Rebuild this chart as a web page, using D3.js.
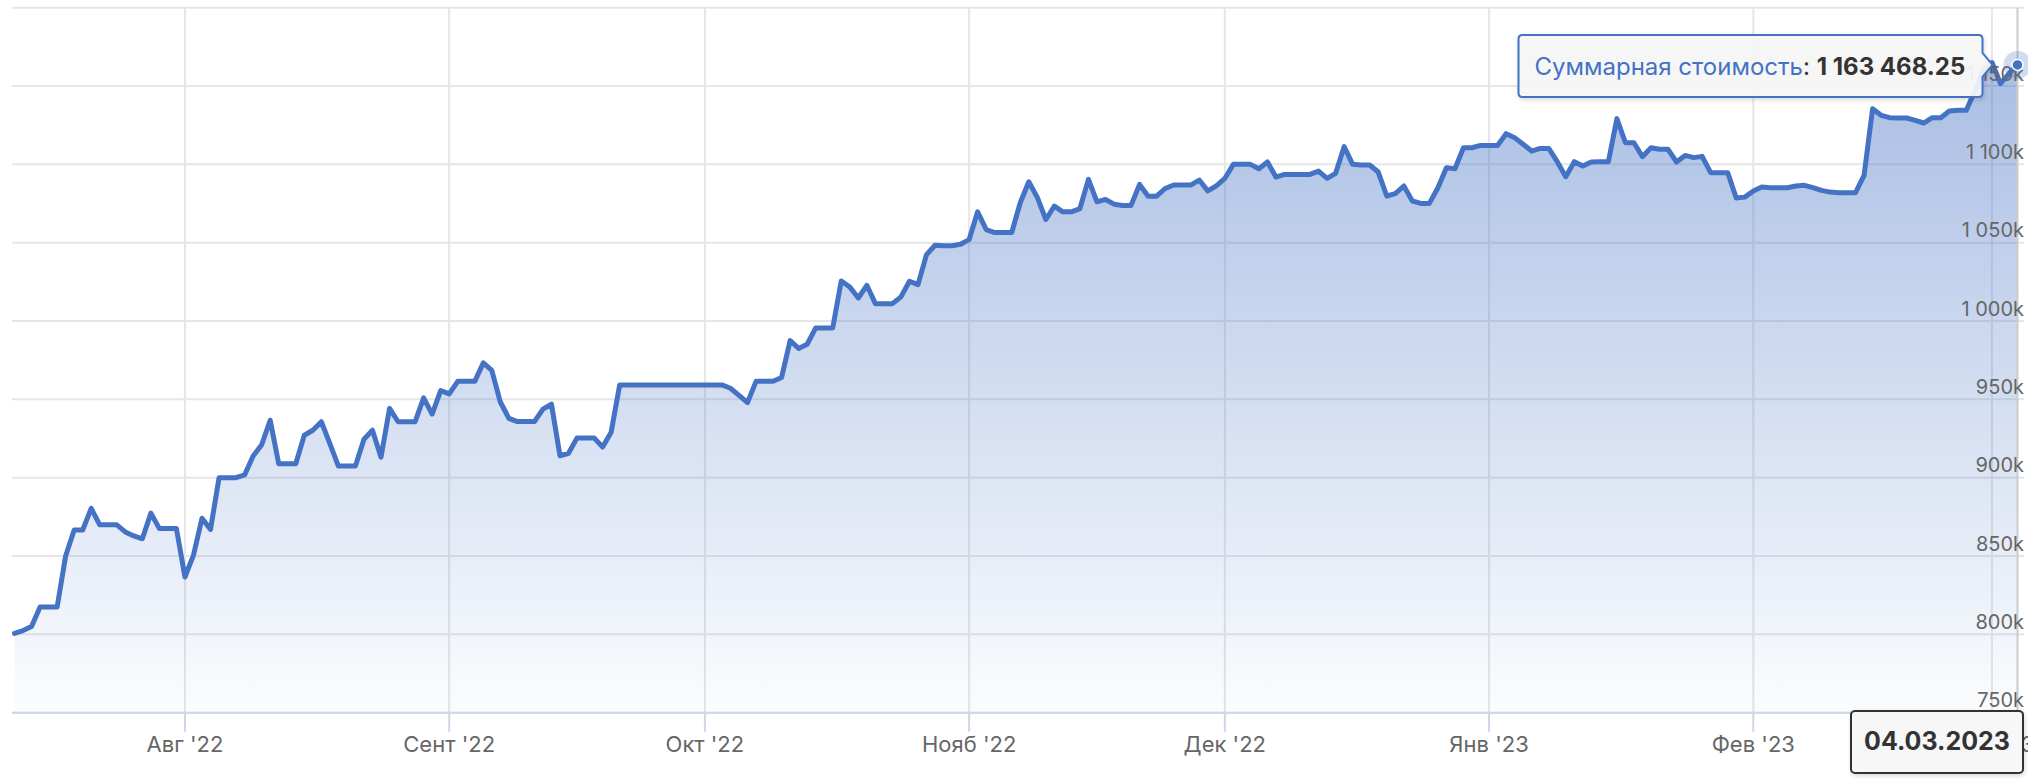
<!DOCTYPE html>
<html lang="ru">
<head>
  <meta charset="UTF-8">
  <title>Суммарная стоимость</title>
  <style>
    body {
        margin: 0;
        background-color: #fff;
    }
    .main {
        position: relative;
        width: 2028px;
        height: 784px;
    }
    text {
        font-family: Inter, "Noto Sans", sans-serif;
    }
  </style>
  <script src="https://cdn.jsdelivr.net/npm/d3@7"></script>
</head>
<body>
    <div class="main"></div>

    <script>

    // daily values, first day 12.07.2022
    var startDate = "2022-07-12";

    var values = [
        800600, 802400, 805000, 817400, 817400, 817400, 850000, 866600, 866600, 880400,
        869900, 869900, 869900, 865400, 862800, 861000, 877400, 867500, 867500, 867500,
        836600, 850600, 874100, 867000, 900000, 900000, 900000, 901800, 913800, 921000,
        936700, 908900, 908900, 908900, 927100, 930300, 935700, 921700, 907400, 907400,
        907400, 924500, 930300, 913100, 944200, 935700, 935700, 935700, 951000, 940600,
        955600, 953500, 961500, 961500, 961500, 973300, 968500, 948300, 937900, 935800,
        935800, 935800, 943800, 946900, 914000, 915600, 925400, 925400, 925400, 919600,
        929000, 959200, 959200, 959200, 959200, 959200, 959200, 959200, 959200, 959200,
        959200, 959200, 959200, 959200, 957100, 952500, 947900, 961500, 961500, 961500,
        964000, 987500, 982500, 985200, 995600, 995600, 995600, 1025600, 1021700, 1014700,
        1022800, 1011100, 1011100, 1011100, 1015400, 1025400, 1023200, 1042400, 1048400, 1048000,
        1048000, 1049000, 1052000, 1069700, 1058400, 1056500, 1056500, 1056500, 1075500, 1088900,
        1078900, 1064800, 1073300, 1069700, 1069700, 1071800, 1090400, 1076100, 1077600, 1074600,
        1073800, 1073800, 1087200, 1079700, 1079700, 1084600, 1086800, 1086800, 1086800, 1090000,
        1083100, 1086300, 1091000, 1100000, 1100000, 1100000, 1097200, 1101500, 1091900, 1093600,
        1093600, 1093600, 1093600, 1095700, 1091100, 1094300, 1111300, 1100000, 1099600, 1099600,
        1095100, 1079800, 1081300, 1086200, 1076600, 1075100, 1075100, 1085100, 1097900, 1097200,
        1110600, 1110600, 1112100, 1112100, 1112100, 1119600, 1117000, 1112800, 1108500, 1110200,
        1110200, 1101700, 1092100, 1101700, 1098900, 1101500, 1101700, 1101700, 1129200, 1113800,
        1113800, 1104900, 1110600, 1109600, 1109600, 1101500, 1105700, 1104300, 1105100, 1094700,
        1094700, 1094700, 1078500, 1079100, 1083000, 1085500, 1085100, 1085100, 1085100, 1086200,
        1086600, 1085100, 1083400, 1082300, 1081900, 1081900, 1081900, 1093000, 1135500, 1131300,
        1129800, 1129600, 1129600, 1128100, 1126400, 1129800, 1129800, 1134000, 1134500, 1134500,
        1147000, 1160000, 1165000, 1151500, 1158000, 1163468.25
    ];

    var monthLabels = ["Авг '22", "Сент '22", "Окт '22", "Нояб '22", "Дек '22", "Янв '23", "Фев '23", "Мар '23"];
    var yTicks = [750000, 800000, 850000, 900000, 950000, 1000000, 1050000, 1100000, 1150000, 1200000];
    var seriesName = "Суммарная стоимость";

    var width = 2028,
        height = 784;

    var plotL = 12, plotR = 2024, plotT = 7.7, plotB = 712.7;
    var color = "#4472c4";

    var parse = d3.utcParse("%Y-%m-%d");
    var day0 = parse(startDate);
    var data = values.map(function(v, i) {
        return { date: d3.utcDay.offset(day0, i), value: v };
    });
    var last = data[data.length - 1];

    var x = d3.scaleUtc()
        .domain([day0, last.date])
        .range([14.5, 2017.5]);

    var y = d3.scaleLinear()
        .domain([750000, 1200000])
        .range([plotB, plotT]);

    var ru = d3.formatLocale({ decimal: ".", thousands: " ", grouping: [3], currency: ["", ""] });
    var fmtK = function(v) { return ru.format(",")(v / 1000) + "k"; };
    var fmtVal = ru.format(",.2f");
    var fmtDate = d3.utcFormat("%d.%m.%Y");

    var months = d3.utcMonth.range(parse("2022-08-01"), parse("2023-03-02"));

    var svg = d3.select(".main").append("svg")
        .attr("width", width)
        .attr("height", height);

    var defs = svg.append("defs");
    var grad = defs.append("linearGradient")
        .attr("id", "fillGrad")
        .attr("gradientUnits", "userSpaceOnUse")
        .attr("x1", 0).attr("y1", plotT)
        .attr("x2", 0).attr("y2", plotB);
    grad.append("stop").attr("offset", 0).attr("stop-color", color).attr("stop-opacity", 0.5);
    grad.append("stop").attr("offset", 1).attr("stop-color", color).attr("stop-opacity", 0.02);

    var shadow = defs.append("filter").attr("id", "shadow")
        .attr("x", "-10%").attr("y", "-30%").attr("width", "120%").attr("height", "160%");
    shadow.append("feDropShadow")
        .attr("dx", 1).attr("dy", 2).attr("stdDeviation", 2)
        .attr("flood-color", "#000").attr("flood-opacity", 0.15);

    // grid
    svg.append("g")
        .selectAll("line")
        .data(yTicks)
        .enter().append("line")
        .attr("x1", plotL).attr("x2", plotR)
        .attr("y1", function(d) { return y(d); })
        .attr("y2", function(d) { return y(d); })
        .attr("stroke", "#e6e6e6")
        .attr("stroke-width", 2);

    svg.append("g")
        .selectAll("line")
        .data(months)
        .enter().append("line")
        .attr("x1", function(d) { return x(d); })
        .attr("x2", function(d) { return x(d); })
        .attr("y1", plotT).attr("y2", plotB)
        .attr("stroke", "#e6e6e6")
        .attr("stroke-width", 2);

    // series
    var area = d3.area()
        .x(function(d) { return x(d.date); })
        .y0(plotB)
        .y1(function(d) { return y(d.value); });

    var line = d3.line()
        .x(function(d) { return x(d.date); })
        .y(function(d) { return y(d.value); });

    svg.append("path")
        .datum(data)
        .attr("d", area)
        .attr("fill", "url(#fillGrad)");

    // crosshair
    svg.append("line")
        .attr("x1", x(last.date)).attr("x2", x(last.date))
        .attr("y1", plotT).attr("y2", plotB)
        .attr("stroke", "#cccccc")
        .attr("stroke-width", 2);

    svg.append("path")
        .datum(data)
        .attr("d", line)
        .attr("fill", "none")
        .attr("stroke", color)
        .attr("stroke-width", 5)
        .attr("stroke-linejoin", "round")
        .attr("stroke-linecap", "round");

    // x axis
    svg.append("line")
        .attr("x1", plotL).attr("x2", plotR)
        .attr("y1", plotB).attr("y2", plotB)
        .attr("stroke", "#ccd6eb")
        .attr("stroke-width", 2);

    var xt = svg.append("g")
        .selectAll("g")
        .data(months)
        .enter().append("g")
        .attr("transform", function(d) { return "translate(" + x(d) + ",0)"; });
    xt.append("line")
        .attr("y1", plotB).attr("y2", plotB + 19)
        .attr("stroke", "#ccd6eb")
        .attr("stroke-width", 2);
    xt.append("text")
        .attr("y", 752)
        .attr("text-anchor", "middle")
        .attr("fill", "#666666")
        .style("font-size", "22px")
        .text(function(d, i) { return monthLabels[i]; });

    // y labels
    svg.append("g")
        .selectAll("text")
        .data(yTicks.slice(0, -1))
        .enter().append("text")
        .attr("x", 2024)
        .attr("y", function(d) { return y(d) - 5.5; })
        .attr("text-anchor", "end")
        .attr("fill", "#666666")
        .style("font-size", "20px")
        .text(fmtK);

    // hover marker
    var px = x(last.date), py = y(last.value);
    svg.append("circle")
        .attr("cx", px).attr("cy", py).attr("r", 14)
        .attr("fill", color).attr("fill-opacity", 0.25);
    svg.append("circle")
        .attr("cx", px).attr("cy", py).attr("r", 5.5)
        .attr("fill", color)
        .attr("stroke", "#fff").attr("stroke-width", 1.5);

    // tooltip
    var tipX = px - 25, tipY = py;
    var bx1 = tipX - 10, bx0 = bx1 - 464, by0 = tipY - 30, by1 = tipY + 32, r = 4;
    var tipPath = "M" + (bx0 + r) + "," + by0 +
        "H" + (bx1 - r) + "Q" + bx1 + "," + by0 + " " + bx1 + "," + (by0 + r) +
        "V" + (tipY - 12) + "L" + tipX + "," + tipY + "L" + bx1 + "," + (tipY + 12) +
        "V" + (by1 - r) + "Q" + bx1 + "," + by1 + " " + (bx1 - r) + "," + by1 +
        "H" + (bx0 + r) + "Q" + bx0 + "," + by1 + " " + bx0 + "," + (by1 - r) +
        "V" + (by0 + r) + "Q" + bx0 + "," + by0 + " " + (bx0 + r) + "," + by0 + "Z";
    svg.append("path")
        .attr("d", tipPath)
        .attr("fill", "#f7f7f7")
        .attr("fill-opacity", 0.92)
        .attr("stroke", color)
        .attr("stroke-width", 2)
        .attr("filter", "url(#shadow)");

    var tt = svg.append("text")
        .attr("x", bx0 + 16)
        .attr("y", tipY + 10)
        .style("font-size", "24px");
    tt.append("tspan").attr("fill", color).text(seriesName);
    tt.append("tspan").attr("fill", "#333333").text(": ");
    tt.append("tspan").attr("fill", "#333333").attr("font-weight", "bold").text(fmtVal(last.value));

    // date label on x axis
    var dx0 = 1851, dx1 = 2023, dy0 = 711, dy1 = 773;
    svg.append("rect")
        .attr("x", dx0).attr("y", dy0)
        .attr("width", dx1 - dx0).attr("height", dy1 - dy0)
        .attr("rx", 4)
        .attr("fill", "#f7f7f7")
        .attr("stroke", "#333333")
        .attr("stroke-width", 2)
        .attr("filter", "url(#shadow)");
    svg.append("text")
        .attr("x", (dx0 + dx1) / 2)
        .attr("y", 750)
        .attr("text-anchor", "middle")
        .attr("fill", "#333333")
        .attr("font-weight", "bold")
        .style("font-size", "25px")
        .text(fmtDate(last.date));

    </script>
</body>
</html>
